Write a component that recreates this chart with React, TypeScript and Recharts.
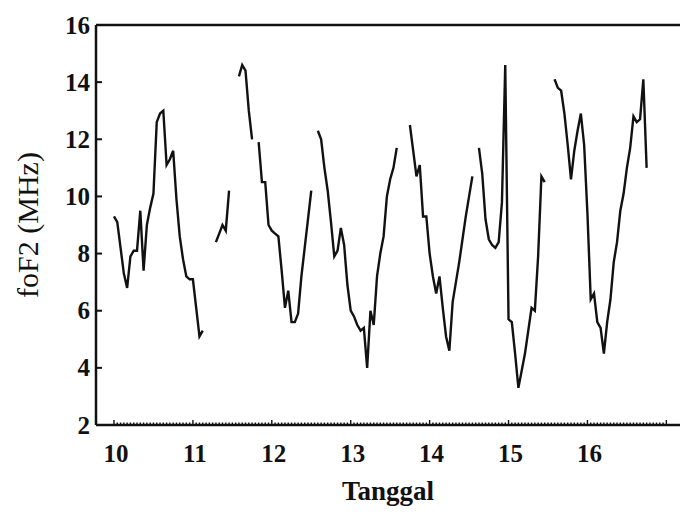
import { LineChart, Line, XAxis, YAxis, ReferenceLine } from "recharts";

// foF2 hourly values (MHz), starting 10th 00h, null = no data
const startDay = 10;
const foF2: (number | null)[] = [
  // day 10
  9.3, 9.1, 8.2, 7.3, 6.8, 7.9, 8.1, 8.1, 9.5, 7.4, 9.0, 9.6,
  10.1, 12.6, 12.9, 13.0, 11.1, 11.3, 11.6, 9.9, 8.6, 7.8, 7.2, 7.1,
  // day 11
  7.1, 6.1, 5.1, 5.3, null, null, null, 8.4, 8.7, 9.0, 8.8, 10.2,
  null, null, 14.2, 14.6, 14.4, 13.0, 12.0, null, 11.9, 10.5, 10.5, 9.0,
  // day 12
  8.8, 8.7, 8.6, 7.4, 6.1, 6.7, 5.6, 5.6, 5.9, 7.2, 8.2, 9.2,
  10.2, null, 12.3, 12.0, 11.0, 10.2, 9.1, 7.9, 8.1, 8.9, 8.3, 6.9,
  // day 13
  6.0, 5.8, 5.5, 5.3, 5.4, 4.0, 6.0, 5.5, 7.2, 8.0, 8.6, 10.0,
  10.6, 11.0, 11.7, null, null, null, 12.5, 11.6, 10.7, 11.1, 9.3, 9.3,
  // day 14
  8.0, 7.2, 6.6, 7.2, 6.1, 5.1, 4.6, 6.3, 7.0, 7.7, 8.5, 9.3,
  10.0, 10.7, null, 11.7, 10.8, 9.2, 8.5, 8.3, 8.2, 8.4, 9.8, 14.6,
  // day 15
  5.7, 5.6, 4.5, 3.3, 3.9, 4.5, 5.3, 6.1, 6.0, 7.9, 10.7, 10.5,
  null, null, 14.1, 13.8, 13.7, 12.9, 11.8, 10.6, 11.6, 12.3, 12.9, 11.8,
  // day 16
  9.4, 6.4, 6.6, 5.6, 5.4, 4.5, 5.6, 6.4, 7.7, 8.4, 9.5, 10.1,
  11.0, 11.7, 12.8, 12.6, 12.7, 14.1, 11.0, null, null, null, null, null,
];

const dayLabels = [10, 11, 12, 13, 14, 15, 16];
const yTicks = [2, 4, 6, 8, 10, 12, 14, 16];

const data = foF2.map((v, i) => ({ t: startDay + i / 24, v }));
const hourTicks = Array.from({ length: 7 * 24 + 1 }, (_, i) => startDay + i / 24);

const FONT = '"Liberation Serif", "Times New Roman", serif';

function XTick(props: any) {
  const { x, y, payload } = props;
  const val = payload.value as number;
  const isDay = Math.abs(val - Math.round(val)) < 1e-6;
  const axisY = y - 19;
  const day = Math.round(val);
  return (
    <g>
      <line x1={x} x2={x} y1={axisY} y2={axisY - (isDay ? 5 : 2.5)} stroke="#111" strokeWidth={1.4} />
      {isDay && dayLabels.includes(day) && (
        <text
          x={x + 2}
          y={y}
          textAnchor="middle"
          dominantBaseline="hanging"
          fontFamily={FONT}
          fontWeight="bold"
          fontSize={25}
          fill="#111"
        >
          {day}
        </text>
      )}
    </g>
  );
}

function YTick(props: any) {
  const { x, y, payload } = props;
  return (
    <g>
      <line x1={x + 6} x2={x + 12} y1={y} y2={y} stroke="#111" strokeWidth={2} />
      <text
        x={x}
        y={y}
        textAnchor="end"
        dominantBaseline="central"
        fontFamily={FONT}
        fontWeight="bold"
        fontSize={25}
        fill="#111"
      >
        {payload.value}
      </text>
    </g>
  );
}

export default function App() {
  return (
    <div style={{ position: "absolute", left: 0, top: 0, background: "#fff" }}>
      <LineChart width={680} height={516} data={data} margin={{ top: 25, right: 0, left: 0, bottom: 0 }}>
        <XAxis
          type="number"
          dataKey="t"
          domain={[9.772, 17.173]}
          allowDataOverflow
          ticks={hourTicks}
          interval={0}
          tick={<XTick />}
          tickLine={false}
          tickSize={0}
          tickMargin={19}
          axisLine={{ stroke: "#111", strokeWidth: 2.5 }}
          height={91}
          label={{
            value: "Tanggal",
            position: "insideBottom",
            offset: 16,
            style: { fontFamily: FONT, fontWeight: "bold", fontSize: 27, fill: "#111" },
          }}
        />
        <YAxis
          type="number"
          domain={[2, 16]}
          ticks={yTicks}
          interval={0}
          tick={<YTick />}
          tickLine={false}
          tickSize={0}
          tickMargin={6}
          axisLine={{ stroke: "#111", strokeWidth: 2.5 }}
          width={96}
          label={{
            value: "foF2 (MHz)",
            angle: -90,
            position: "insideLeft",
            offset: 27,
            style: { textAnchor: "middle", fontFamily: FONT, fontSize: 30, fill: "#111", fontWeight: 500 },
          }}
        />
        <ReferenceLine y={16} stroke="#111" strokeWidth={2.5} />
        <Line
          type="linear"
          dataKey="v"
          stroke="#111"
          strokeWidth={2.4}
          dot={false}
          connectNulls={false}
          isAnimationActive={false}
        />
      </LineChart>
    </div>
  );
}
